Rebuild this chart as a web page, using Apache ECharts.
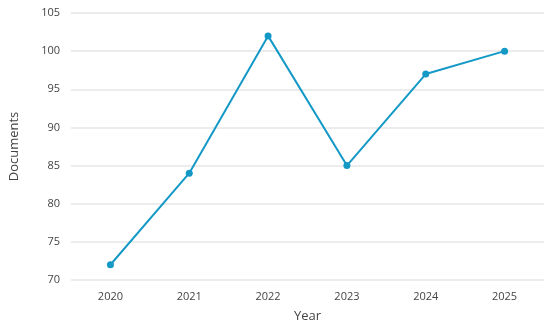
<!DOCTYPE html>
<html><head><meta charset="utf-8">
<script src="https://cdn.jsdelivr.net/npm/echarts@6/dist/echarts.min.js"></script>
<style>html,body{margin:0;padding:0;background:#fff}#c{width:550px;height:326px}</style>
</head><body><div id="c"></div>
<script>
const categories = ['2020','2021','2022','2023','2024','2025'];
const documents = [72, 84, 102, 85, 97, 100];
const yTicks = [70, 75, 80, 85, 90, 95, 100, 105];

const chart = echarts.init(document.getElementById('c'), null, {renderer:'canvas'});
chart.setOption({
  animation:false,
  grid:{left:71, right:6, top:13, bottom:46, containLabel:false, outerBoundsMode:'none'},
  xAxis:{
    type:'category', data:categories, boundaryGap:true,
    name:'Year', nameLocation:'middle', nameGap:30,
    nameTextStyle:{fontFamily:'Open Sans', fontSize:13, color:'#444'},
    axisLine:{show:false}, axisTick:{show:false},
    axisLabel:{fontFamily:'Open Sans', fontSize:11, color:'#444', margin:11}
  },
  yAxis:{
    type:'value', min:yTicks[0], max:yTicks[yTicks.length-1], interval:5,
    name:'Documents', nameLocation:'middle', nameGap:50,
    nameTextStyle:{fontFamily:'Open Sans', fontSize:13, color:'#444'},
    axisLine:{show:false}, axisTick:{show:false},
    axisLabel:{fontFamily:'Open Sans', fontSize:11, color:'#444', margin:11},
    splitLine:{lineStyle:{color:'#e6e6e6', width:1.5}}
  },
  series:[{
    type:'line', data:documents,
    symbol:'circle', symbolSize:7,
    lineStyle:{color:'#1499c7', width:2},
    itemStyle:{color:'#1499c7'}
  }]
});
</script></body></html>
